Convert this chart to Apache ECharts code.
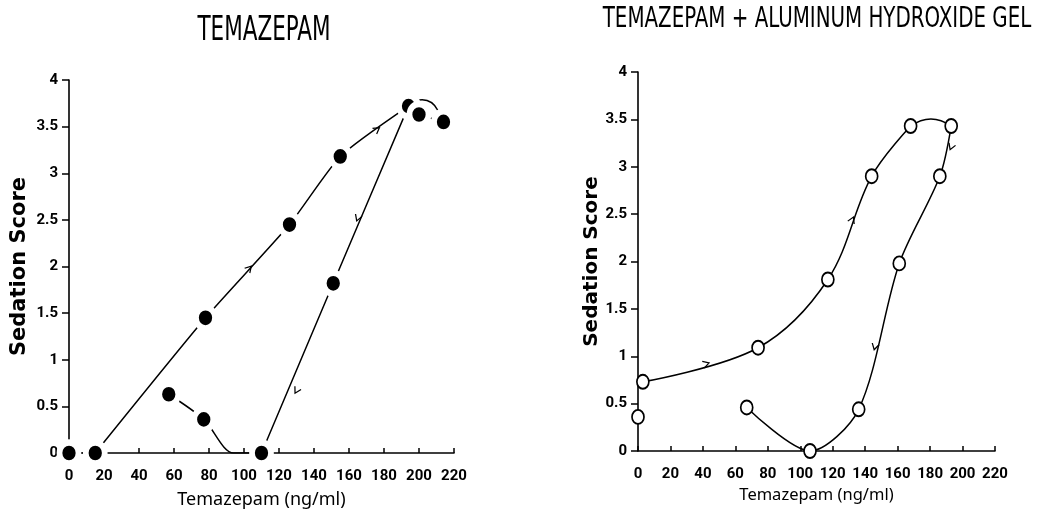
<!DOCTYPE html>
<html><head><meta charset="utf-8">
<script src="https://cdn.jsdelivr.net/npm/echarts@6/dist/echarts.min.js"></script>
<style>html,body{margin:0;padding:0;background:#fff}#c{width:1037px;height:514px}</style>
</head><body><div id="c"></div>
<script>
// ---- data (x = Temazepam ng/ml, y = Sedation Score) ----
const titles = ['TEMAZEPAM', 'TEMAZEPAM + ALUMINUM HYDROXIDE GEL'];
const xName = 'Temazepam (ng/ml)';
const yName = 'Sedation Score';

// Left panel: Temazepam alone (filled circles)
const leftPoints = [[0,0],[15,0],[78,1.45],[126,2.45],[155,3.18],[194,3.72],[200,3.63],[214,3.55],[151,1.82],[110,0],[57,0.63],[77,0.36]];
const leftStart = [[0,0],[15,0]];
const leftRise  = [[15,0],[78,1.45],[126,2.45],[155,3.18],[194,3.72]];
const leftPeak  = [[200,3.63],[214,3.55]];
const leftFall  = [[194,3.72],[151,1.82],[110,0]];
const leftTail  = [[110,0],[94,0],[77,0.36],[57,0.63]];
const leftArc   = [[198.5,3.78],[210.9,3.67]];
// arrows: [x, y, towardX, towardY]
const leftArrows = [[176,3.47,194,3.72],[103,1.98,126,2.45],[165,2.52,151,1.82],[130,0.67,110,0]];

// Right panel: Temazepam + aluminum hydroxide gel (open circles)
const rightPoints = [[0,0.36],[3,0.73],[74,1.09],[117,1.81],[144,2.9],[168,3.43],[193,3.43],[186,2.9],[161,1.98],[136,0.44],[106,0],[67,0.46]];
const rightRise = [[3,0.73],[74,1.09],[117,1.81],[144,2.9],[168,3.43]];
const rightTop  = [[168,3.43],[193,3.43]];
const rightFall = [[193,3.43],[186,2.9],[161,1.98],[136,0.44],[106,0],[67,0.46]];
const rightArrows = [[42,0.92,74,1.09],[132,2.44,144,2.9],[193,3.21,186,2.9],[146,1.10,136,0.44]];

// ---- chart ----
const condensed = '"Liberation Sans Narrow", "DejaVu Sans Condensed", sans-serif';
const tickFont = '"Liberation Sans Narrow", Roboto, sans-serif';
const chart = echarts.init(document.getElementById('c'), null, {renderer:'canvas'});

function xAxisCfg(grid, gap, size){
  return {
    gridIndex: grid, type:'value', min:0, max:220, interval:20,
    axisLine:{show:true, onZero:false, lineStyle:{color:'#000', width:1.6}},
    axisTick:{show:true, inside:true, length:5, lineStyle:{color:'#000', width:1.5}},
    splitLine:{show:false},
    axisLabel:{color:'#000', fontFamily:tickFont, fontWeight:'bold', fontSize:15, margin:16},
    name:xName, nameLocation:'middle', nameGap:gap,
    nameTextStyle:{color:'#000', fontFamily:'"Noto Sans", sans-serif', fontSize:size}
  };
}
function yAxisCfg(grid, gap, size){
  return {
    gridIndex: grid, type:'value', min:0, max:4, interval:0.5,
    axisLine:{show:true, onZero:false, lineStyle:{color:'#000', width:1.6}},
    axisTick:{show:true, inside:false, length:7, lineStyle:{color:'#000', width:1.5}},
    splitLine:{show:false},
    axisLabel:{color:'#000', fontFamily:tickFont, fontWeight:'bold', fontSize:15, margin:11},
    name:yName, nameLocation:'middle', nameGap:gap,
    nameTextStyle:{color:'#000', fontFamily:'"DejaVu Sans", sans-serif', fontWeight:'bold', fontSize:size}
  };
}
function line(id, data, grid, smooth){
  return {id:id, type:'line', data:data, xAxisIndex:grid, yAxisIndex:grid, smooth:smooth,
    showSymbol:false, symbol:'none', silent:true, z:2,
    lineStyle:{color:'#000', width:1.5}};
}
function arc(id, coords, grid, curveness){
  return {id:id, type:'lines', coordinateSystem:'cartesian2d', xAxisIndex:grid, yAxisIndex:grid, silent:true, z:2,
    data:[{coords:coords}], lineStyle:{color:'#000', width:1.5, curveness:curveness, opacity:1}};
}
const chevron = 'path://M0,0L10,5L0,10';
function arrows(id, grid){
  return {id:id, type:'scatter', xAxisIndex:grid, yAxisIndex:grid, data:[], symbol:chevron,
    symbolSize:[6,7], z:3, silent:true,
    itemStyle:{color:'rgba(0,0,0,0)', borderColor:'#000', borderWidth:1.2, opacity:1}};
}

const option = {
  animation:false,
  backgroundColor:'#fff',
  grid:[
    {left:69, top:80, width:385, height:373},
    {left:638, top:72, width:357, height:379}
  ],
  xAxis:[xAxisCfg(0, 38, 18), xAxisCfg(1, 36, 16.5)],
  yAxis:[yAxisCfg(0, 39, 21), yAxisCfg(1, 34, 20)],
  graphic:[
    {type:'text', x:264, y:31, scaleX:0.92, scaleY:1.3, style:{text:titles[0], fontFamily:condensed, fontSize:26, align:'center', verticalAlign:'middle', fill:'#000'}},
    {type:'text', x:817, y:20, scaleX:0.9, scaleY:1.13, style:{text:titles[1], fontFamily:condensed, fontSize:24.5, align:'center', verticalAlign:'middle', fill:'#000'}}
  ],
  series:[
    line('ls', leftStart, 0, false),
    line('lr', leftRise, 0, 0.2),
    line('lp', leftPeak, 0, false),
    line('lf', leftFall, 0, 0.3),
    line('lt', leftTail, 0, 0.3),
    arc('la1', leftArc, 0, 0.4),
    line('rr', rightRise, 1, 0.35),
    arc('ra1', rightTop, 1, 0.35),
    line('rf', rightFall, 1, 0.3),
    arrows('la', 0),
    arrows('ra', 1),
    {id:'lm', type:'scatter', xAxisIndex:0, yAxisIndex:0, data:leftPoints, symbol:'circle',
      symbolSize:[19,21], z:5, silent:true,
      itemStyle:{color:'#000', borderColor:'#fff', borderWidth:6, opacity:1}},
    {id:'rm', type:'scatter', xAxisIndex:1, yAxisIndex:1, data:rightPoints, symbol:'circle',
      symbolSize:[12,14], z:5, silent:true,
      itemStyle:{color:'#fff', borderColor:'#000', borderWidth:1.8, opacity:1}}
  ]
};
chart.setOption(option);

function arrowData(arr, grid){
  return arr.map(function(a){
    const p1 = chart.convertToPixel({gridIndex:grid}, [a[0], a[1]]);
    const p2 = chart.convertToPixel({gridIndex:grid}, [a[2], a[3]]);
    const ang = Math.atan2(-(p2[1]-p1[1]), p2[0]-p1[0]) * 180 / Math.PI;
    return {value:[a[0], a[1]], symbolRotate:ang};
  });
}
chart.setOption({series:[
  {id:'la', data:arrowData(leftArrows, 0)},
  {id:'ra', data:arrowData(rightArrows, 1)}
]});
</script></body></html>
